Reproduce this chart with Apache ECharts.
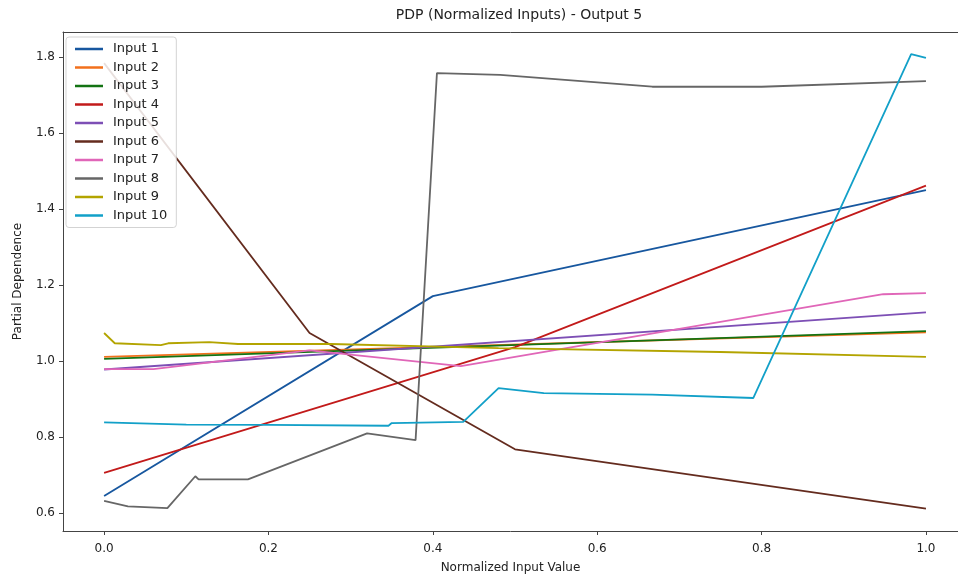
<!DOCTYPE html>
<html><head><meta charset="utf-8">
<script src="https://cdn.jsdelivr.net/npm/echarts@6/dist/echarts.min.js"></script>
<style>html,body{margin:0;padding:0;background:#fff}#c{width:958px;height:575px}</style>
</head><body><div id="c"></div>
<script>
const seriesNames = ['Input 1','Input 2','Input 3','Input 4','Input 5','Input 6','Input 7','Input 8','Input 9','Input 10'];
const xTicks = [0.0, 0.2, 0.4, 0.6, 0.8, 1.0];
const yTicks = [0.6, 0.8, 1.0, 1.2, 1.4, 1.6, 1.8];

const in1X = [0, 0.4, 1.0];
const in1Y = [0.645, 1.171, 1.450];
const in2X = [0, 1.0];
const in2Y = [1.011, 1.076];
const in3X = [0, 1.0];
const in3Y = [1.006, 1.079];
const in4X = [0, 0.5, 1.0];
const in4Y = [0.706, 1.037, 1.462];
const in5X = [0, 1.0];
const in5Y = [0.978, 1.128];
const in6X = [0, 0.25, 0.5, 1.0];
const in6Y = [1.784, 1.074, 0.768, 0.612];
const in7X = [0, 0.06, 0.25, 0.434, 0.948, 1.0];
const in7Y = [0.979, 0.979, 1.028, 0.987, 1.176, 1.179];
const in8X = [0, 0.029, 0.077, 0.111, 0.115, 0.175, 0.32, 0.379, 0.405, 0.482, 0.667, 0.8, 1.0];
const in8Y = [0.632, 0.618, 0.613, 0.697, 0.689, 0.689, 0.810, 0.792, 1.758, 1.753, 1.722, 1.722, 1.737];
const in9X = [0, 0.013, 0.069, 0.078, 0.128, 0.163, 0.276, 0.48, 0.75, 1.0];
const in9Y = [1.074, 1.047, 1.042, 1.047, 1.050, 1.045, 1.045, 1.034, 1.024, 1.011];
const in10X = [0, 0.1, 0.2, 0.346, 0.35, 0.437, 0.48, 0.535, 0.667, 0.79, 0.982, 1.0];
const in10Y = [0.839, 0.833, 0.832, 0.830, 0.837, 0.840, 0.929, 0.916, 0.912, 0.903, 1.808, 1.798];

const xs = [in1X,in2X,in3X,in4X,in5X,in6X,in7X,in8X,in9X,in10X];
const ys = [in1Y,in2Y,in3Y,in4Y,in5Y,in6Y,in7Y,in8Y,in9Y,in10Y];
const colors = ['#17579f','#f2701c','#137313','#c21a1a','#7d4fb5','#642b1e','#e066b8','#666666','#b3a400','#12a0c8'];

const font = 'DejaVu Sans';
const chart = echarts.init(document.getElementById('c'), null, {renderer:'canvas'});
const series = seriesNames.map((n,i)=>({
  name:n, type:'line', showSymbol:false, symbol:'none', animation:false,
  data: xs[i].map((x,j)=>[x, ys[i][j]]),
  lineStyle:{color:colors[i], width:1.8}, itemStyle:{color:colors[i]},
  z: 2+i
}));
const lineCol = '#444';
chart.setOption({
  animation:false,
  backgroundColor:'#fff',
  title:{text:'PDP (Normalized Inputs) - Output 5', left:514, top:3, textAlign:'center',
    textStyle:{fontFamily:font, fontSize:14, fontWeight:'normal', color:'#222'}},
  grid:{left:63, right:0, top:32, bottom:44, show:false, outerBoundsMode:'none', containLabel:false},
  legend:{orient:'vertical', left:66, top:37, icon:'rect', itemWidth:28, itemHeight:2.5, itemGap:4.5,
    backgroundColor:'rgba(255,255,255,0.85)', borderColor:'rgba(200,200,200,0.8)', borderWidth:1, borderRadius:3, padding:[5,9,5,9],
    textStyle:{fontFamily:font, fontSize:13, color:'#222', lineHeight:14, padding:[0,0,0,5]},
    data:seriesNames, z:20},
  xAxis:[{type:'value', min:-0.05, max:1.039, name:'Normalized Input Value', nameLocation:'middle', nameGap:31,
    nameTextStyle:{fontFamily:font, fontSize:12, color:'#222'},
    axisLine:{show:true, onZero:false, lineStyle:{color:lineCol}},
    axisTick:{show:true, length:4, customValues:xTicks, lineStyle:{color:lineCol}},
    axisLabel:{customValues:xTicks, formatter:v=>v.toFixed(1), fontFamily:font, fontSize:12, color:'#222', margin:12},
    splitLine:{show:false}},
   {type:'value', position:'top', min:-0.05, max:1.039,
    axisLine:{show:true, onZero:false, lineStyle:{color:lineCol}},
    axisTick:{show:false}, axisLabel:{show:false}, splitLine:{show:false}}],
  yAxis:{type:'value', min:0.553, max:1.866, name:'Partial Dependence', nameLocation:'middle', nameGap:39,
    nameTextStyle:{fontFamily:font, fontSize:12, color:'#222'},
    axisLine:{show:true, onZero:false, lineStyle:{color:lineCol}},
    axisTick:{show:true, length:4, customValues:yTicks, lineStyle:{color:lineCol}},
    axisLabel:{customValues:yTicks, formatter:v=>v.toFixed(1), fontFamily:font, fontSize:12, color:'#222', margin:8},
    splitLine:{show:false}},
  series
});
</script></body></html>
